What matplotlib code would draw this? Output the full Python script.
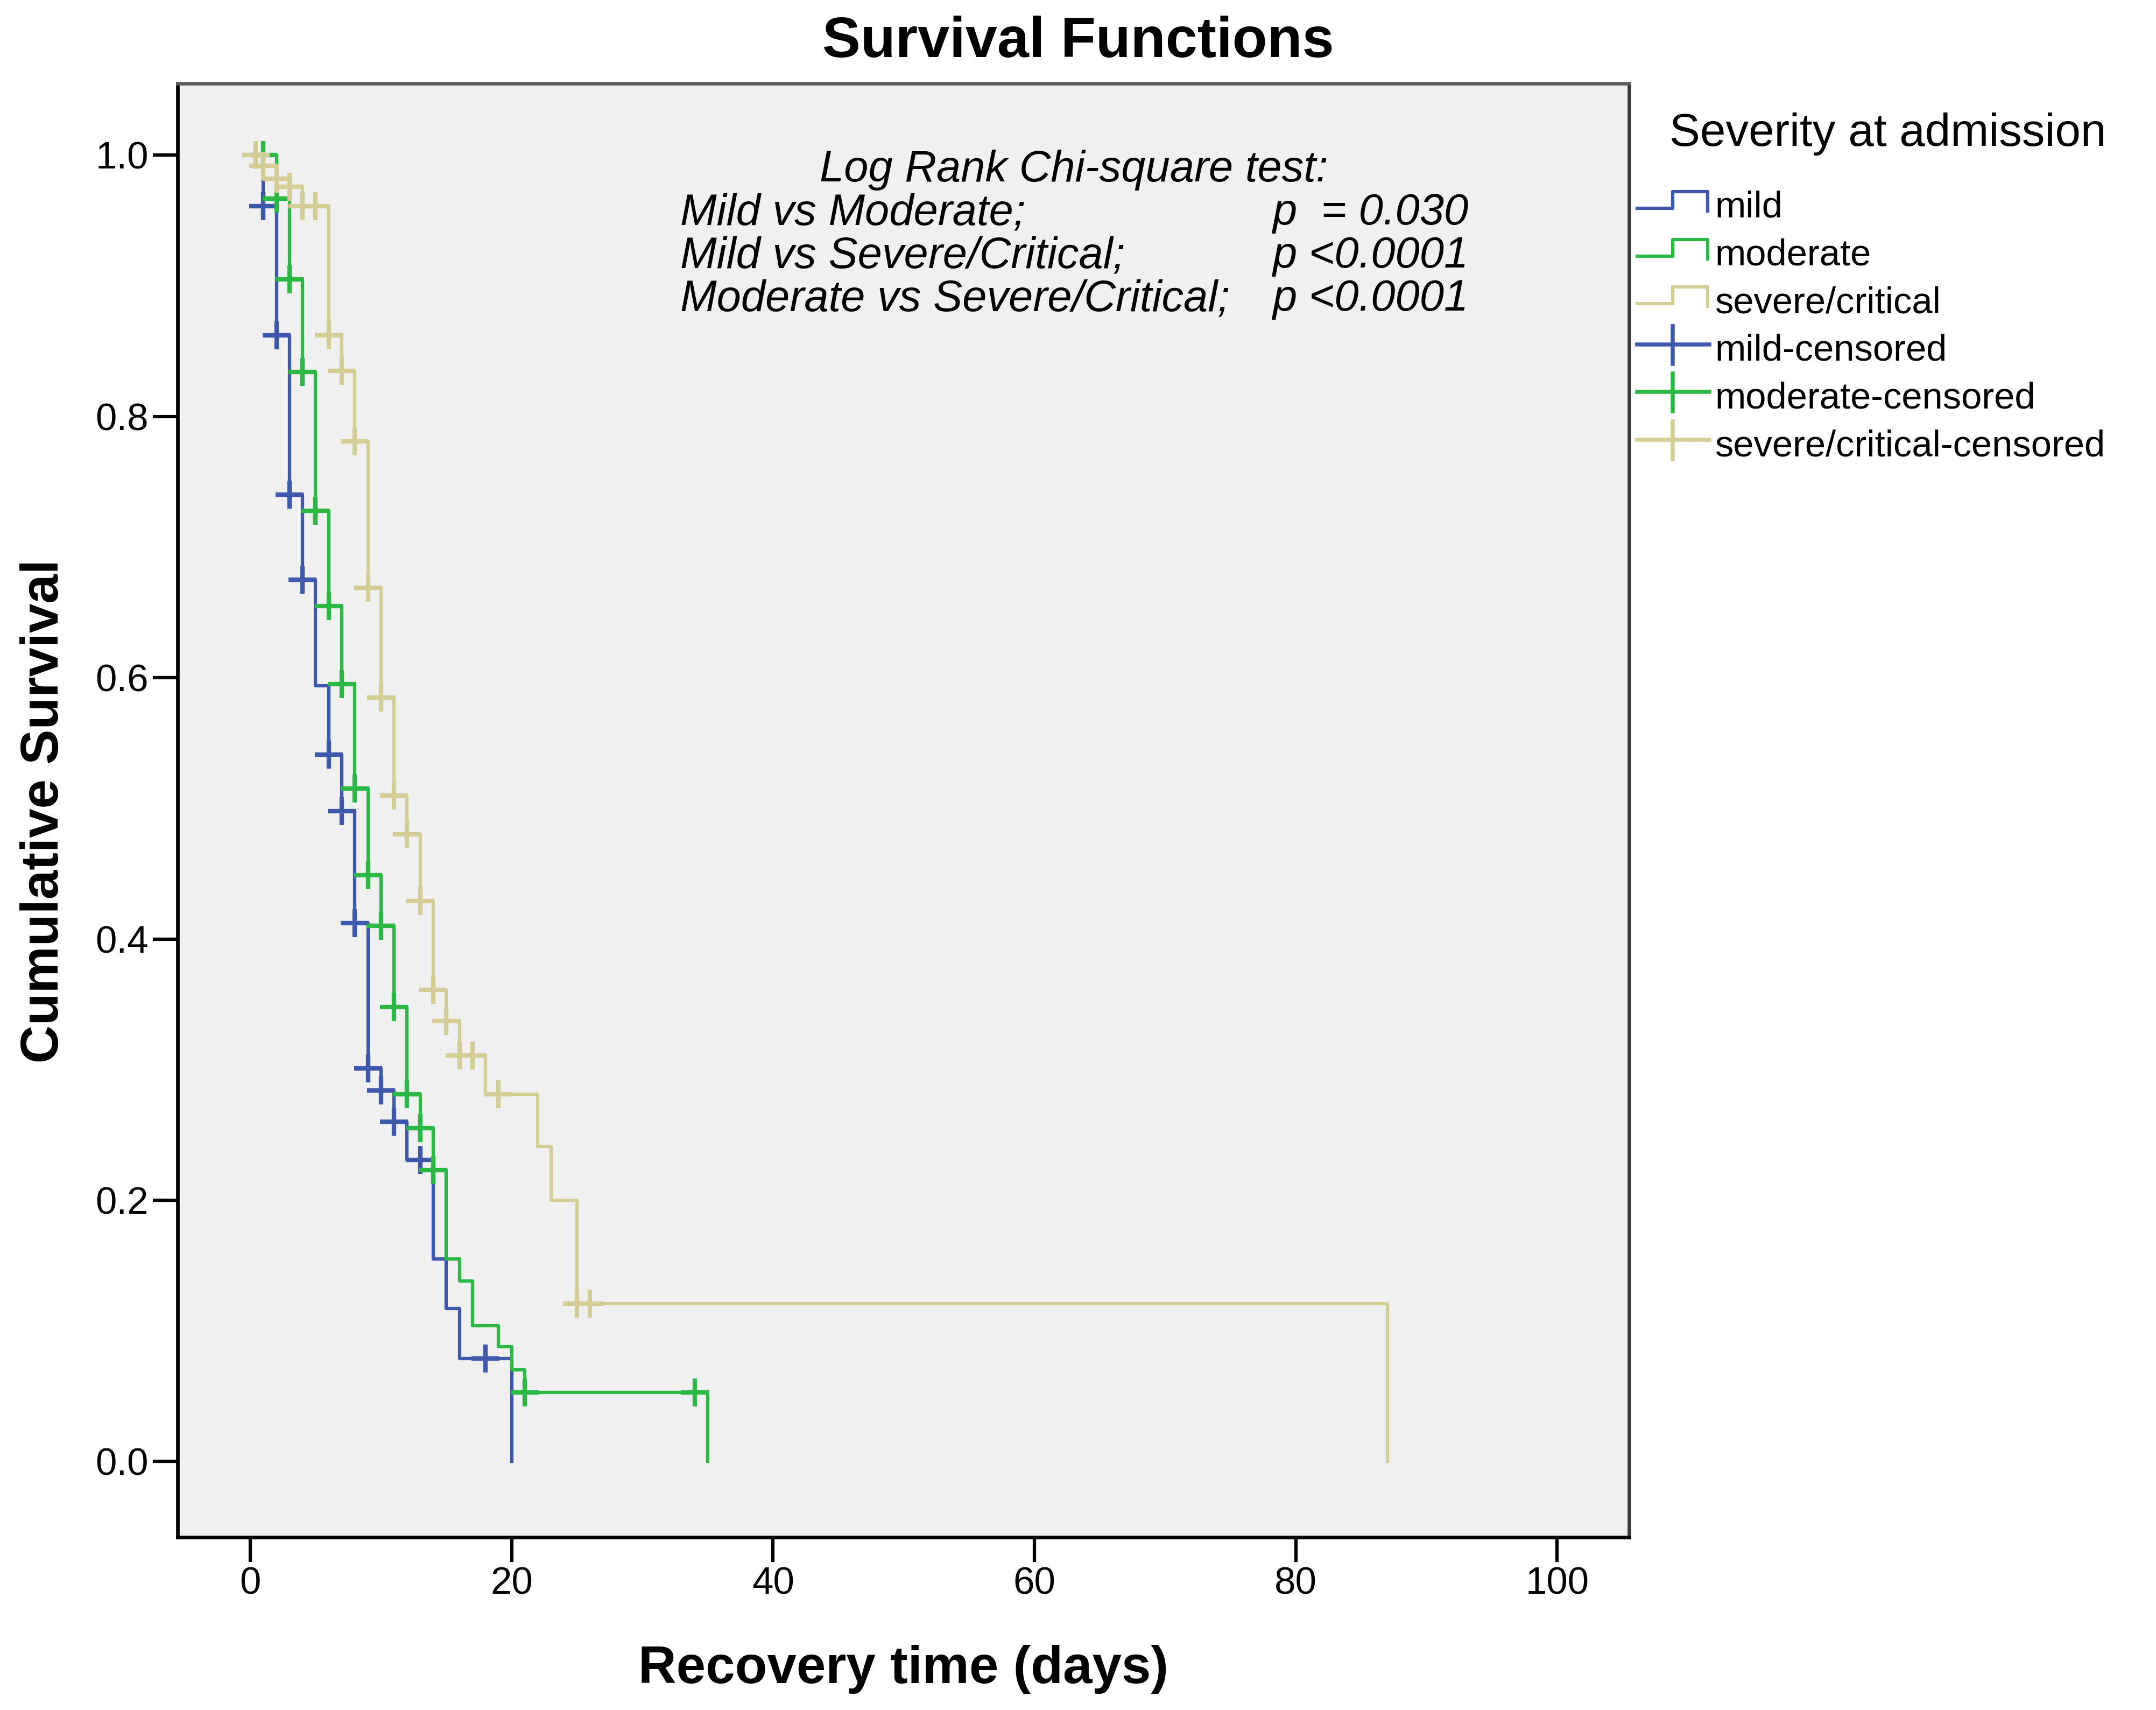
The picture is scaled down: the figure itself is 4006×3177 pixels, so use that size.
import matplotlib
matplotlib.use("Agg")
import matplotlib.pyplot as plt
from matplotlib.lines import Line2D

plt.rcParams["font.family"] = ["Liberation Sans", "DejaVu Sans"]

# Kaplan-Meier steps (time in days, cumulative survival after the step)
mild_t = [0, 1, 2, 3, 4, 5, 6, 7, 8, 9, 10, 11, 12, 14, 15, 16, 20]
mild_s = [1.0, 0.961, 0.862, 0.740, 0.675, 0.594, 0.541, 0.498, 0.412,
          0.301, 0.284, 0.260, 0.231, 0.155, 0.117, 0.079, 0.0]
mild_cens_t = [1, 2, 3, 4, 6, 7, 8, 9, 10, 11, 13, 18]
mild_cens_s = [0.961, 0.862, 0.740, 0.675, 0.541, 0.498, 0.412, 0.301,
               0.284, 0.260, 0.231, 0.079]

mod_t = [0, 2, 3, 4, 5, 6, 7, 8, 9, 10, 11, 12, 13, 14, 15, 16, 17, 19, 20, 21, 35]
mod_s = [1.0, 0.967, 0.905, 0.834, 0.728, 0.655, 0.595, 0.515, 0.449, 0.410,
         0.348, 0.281, 0.255, 0.223, 0.155, 0.138, 0.104, 0.088, 0.070, 0.053, 0.0]
mod_cens_t = [1, 2, 3, 4, 5, 6, 7, 8, 9, 10, 11, 12, 13, 14, 21, 34]
mod_cens_s = [1.0, 0.967, 0.905, 0.834, 0.728, 0.655, 0.595, 0.515, 0.449,
              0.410, 0.348, 0.281, 0.255, 0.223, 0.053, 0.053]

sev_t = [0, 1, 2, 3, 4, 6, 7, 8, 9, 10, 11, 12, 13, 14, 15, 16, 18, 22, 23, 25, 87]
sev_s = [1.0, 0.992, 0.982, 0.976, 0.961, 0.862, 0.835, 0.781, 0.669, 0.585,
         0.510, 0.480, 0.429, 0.361, 0.337, 0.311, 0.281, 0.241, 0.200, 0.121, 0.0]
sev_cens_t = [0.4, 1, 2, 3, 4, 5, 6, 7, 8, 9, 10, 11, 12, 13, 14, 15, 16, 17, 19, 25, 26]
sev_cens_s = [1.0, 0.992, 0.982, 0.976, 0.961, 0.961, 0.862, 0.835, 0.781, 0.669,
              0.585, 0.510, 0.480, 0.429, 0.361, 0.337, 0.311, 0.311, 0.281, 0.121, 0.121]

group_labels = ["mild", "moderate", "severe/critical"]
group_colors = ["#3e58ac", "#2cb845", "#d4ce96"]

stat_header = "Log Rank Chi-square test:"
stat_pairs = ["Mild vs Moderate;", "Mild vs Severe/Critical;", "Moderate vs Severe/Critical;"]
stat_pvals = ["p  = 0.030", "p <0.0001", "p <0.0001"]

W, H = 4006, 3177
fig = plt.figure(figsize=(W / 300, H / 300), dpi=300)
ax = fig.add_axes([330 / W, 1 - 2856 / H, (3027 - 330) / W, (2856 - 155) / H])
ax.set_facecolor("#f0f0f0")

lw = 1.5
curves = [(mild_t, mild_s), (mod_t, mod_s), (sev_t, sev_s)]
cens = [(mild_cens_t, mild_cens_s), (mod_cens_t, mod_cens_s), (sev_cens_t, sev_cens_s)]
for (t, s), c in zip(curves, group_colors):
    ax.step(t, s, where="post", color=c, lw=lw)
for (t, s), c in zip(cens, group_colors):
    ax.plot(t, s, linestyle="none", marker="+", ms=12.5, mew=2.0, color=c)

ax.set_xlim(-5.56, 105.5)
ax.set_ylim(-0.058, 1.055)
ax.set_xticks([0, 20, 40, 60, 80, 100])
ax.set_yticks([0.0, 0.2, 0.4, 0.6, 0.8, 1.0])
ax.set_yticklabels(["%.1f" % v for v in [0.0, 0.2, 0.4, 0.6, 0.8, 1.0]])
ax.tick_params(length=11, width=1.5, labelsize=17, pad=2, direction="out")
for side in ["left", "bottom"]:
    ax.spines[side].set_linewidth(1.6)
    ax.spines[side].set_color("black")
ax.spines["top"].set_color("#5e5e5e")
ax.spines["top"].set_linewidth(1.6)
ax.spines["right"].set_color("#3a3a3a")
ax.spines["right"].set_linewidth(1.6)

# log-rank annotation
ax.text(63.0, 0.980, stat_header, style="italic", fontsize=19.5, ha="center", va="baseline")
for i, (pair, pv) in enumerate(zip(stat_pairs, stat_pvals)):
    y = 0.947 - i * 0.033
    ax.text(32.9, y, pair, style="italic", fontsize=19.5, ha="left", va="baseline")
    ax.text(78.2, y, pv, style="italic", fontsize=19.5, ha="left", va="baseline")

# titles
fig.text(0.5, 1 - 106 / H, "Survival Functions", fontsize=25.5, fontweight="bold",
         ha="center", va="baseline")
fig.text(1678 / W, 1 - 3127 / H, "Recovery time (days)", fontsize=23.5, fontweight="bold",
         ha="center", va="baseline")
fig.text(108 / W, 1 - 1507 / H, "Cumulative Survival", fontsize=23.5, fontweight="bold",
         rotation=90, rotation_mode="anchor", ha="center", va="baseline")

# legend drawn by hand (SPSS style step / cross handles)
def fx(x):
    return x / W

def fy(y):
    return 1 - y / H

fig.text(fx(3102), fy(271), "Severity at admission", fontsize=20.5, ha="left", va="baseline")
entries = [(l, c, False) for l, c in zip(group_labels, group_colors)] + \
          [(l + "-censored", c, True) for l, c in zip(group_labels, group_colors)]
for i, (lab, c, is_cens) in enumerate(entries):
    base = 404 + i * 88.6
    if is_cens:
        fig.add_artist(Line2D([fx(3042), fx(3176)], [fy(base - 30), fy(base - 30)],
                              color=c, lw=1.8, transform=fig.transFigure))
        fig.add_artist(Line2D([fx(3108), fx(3108)], [fy(base - 64), fy(base + 6)],
                              color=c, lw=1.8, transform=fig.transFigure))
    else:
        xs = [fx(3042), fx(3108), fx(3108), fx(3173), fx(3173)]
        ys = [fy(base - 17), fy(base - 17), fy(base - 48), fy(base - 48), fy(base - 12)]
        fig.add_artist(Line2D(xs, ys, color=c, lw=lw, transform=fig.transFigure))
    fig.text(fx(3186), fy(base), lab, fontsize=16.5, ha="left", va="baseline")

fig.savefig("out.png", dpi=300, facecolor="white")
